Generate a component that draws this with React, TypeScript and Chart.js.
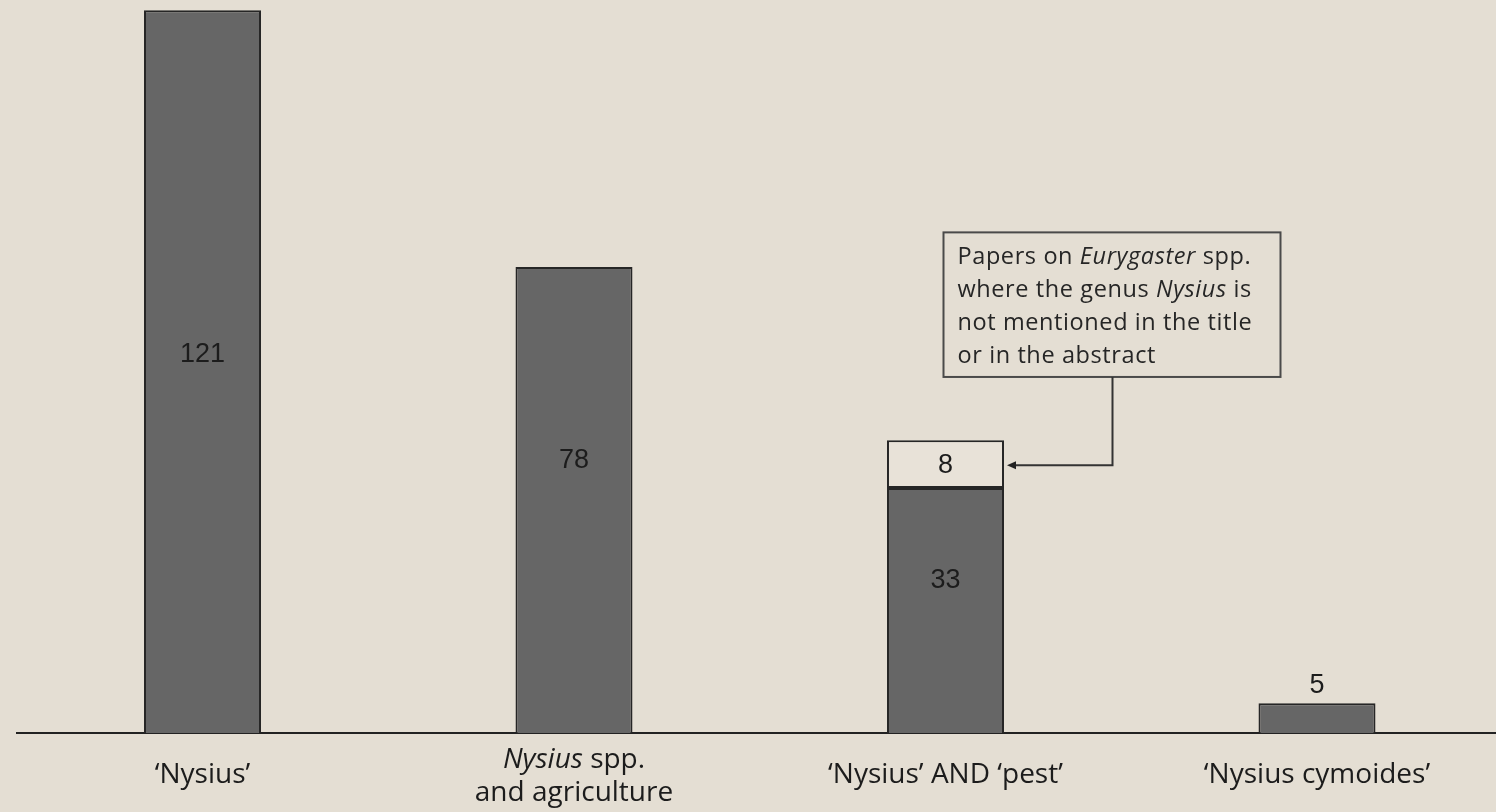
import React, { useEffect, useRef } from "react";
import { Chart, registerables } from "chart.js";

Chart.register(...registerables);

// ---- data ----
const categoryLines: string[][] = [
  ["‘Nysius’"],
  ["*Nysius* spp.", "and agriculture"],
  ["‘Nysius’ AND ‘pest’"],
  ["‘Nysius cymoides’"],
];
const mainCounts = [121, 78, 41, 5];
const extraCounts: (number | null)[] = [null, null, 8, null];
const mainLabels = ["121", "78", "33", "5"];
const extraLabels = ["", "", "8", ""];
const noteLines = [
  "Papers on *Eurygaster* spp.",
  "where the genus *Nysius* is",
  "not mentioned in the title",
  "or in the abstract",
];
const noteTarget = 2;

// ---- style ----
const BG = "#e4ded3";
const BAR = "#666666";
const EDGE = "#262626";
const TEXT = "#1c1c1c";
const labelAnchors = [63.3, 45.6, 25.6, 8.0];

function setFont(ctx: CanvasRenderingContext2D, italic: boolean, size: number, fam: string, spacing: number) {
  ctx.font = `${italic ? "italic " : ""}${size}px ${fam}`;
  (ctx as any).letterSpacing = `${spacing}px`;
}
function richWidth(ctx: CanvasRenderingContext2D, line: string, size: number, fam: string, spacing: number) {
  const parts = line.split("*");
  let w = 0;
  parts.forEach((p, i) => {
    setFont(ctx, i % 2 === 1, size, fam, spacing);
    w += ctx.measureText(p).width;
  });
  return w;
}
function drawRich(
  ctx: CanvasRenderingContext2D,
  line: string,
  x: number,
  y: number,
  size: number,
  fam: string,
  center: boolean,
  spacing = 0
) {
  const parts = line.split("*");
  let cx = center ? x - richWidth(ctx, line, size, fam, spacing) / 2 : x;
  ctx.textAlign = "left";
  ctx.textBaseline = "middle";
  parts.forEach((p, i) => {
    setFont(ctx, i % 2 === 1, size, fam, spacing);
    ctx.fillText(p, cx, y);
    cx += ctx.measureText(p).width;
  });
  (ctx as any).letterSpacing = "0px";
}

const decor = {
  id: "decor",
  beforeDraw(chart: any) {
    const ctx = chart.ctx;
    ctx.save();
    ctx.fillStyle = BG;
    ctx.fillRect(0, 0, chart.width, chart.height);
    ctx.restore();
  },
  afterDatasetsDraw(chart: any) {
    const ctx: CanvasRenderingContext2D = chart.ctx;
    const xs = chart.scales.x;
    const ys = chart.scales.y;
    ctx.save();
    ctx.fillStyle = TEXT;
    // value labels
    ctx.font = "27px 'Liberation Sans', Arial, sans-serif";
    ctx.textAlign = "center";
    ctx.textBaseline = "middle";
    mainLabels.forEach((t, i) => {
      if (!t) return;
      ctx.fillText(t, xs.getPixelForValue(i), ys.getPixelForValue(labelAnchors[i]));
    });
    extraLabels.forEach((t, i) => {
      const v = extraCounts[i];
      if (!t || v == null) return;
      ctx.fillText(t, xs.getPixelForValue(i), ys.getPixelForValue(mainCounts[i] + v / 2) + 1);
    });
    // category labels
    const base = chart.chartArea.bottom;
    categoryLines.forEach((lines, i) => {
      const cx = xs.getPixelForValue(i);
      const ys0 = lines.length === 1 ? [base + 42] : [base + 27, base + 60];
      lines.forEach((ln, j) => drawRich(ctx, ln, cx, ys0[j], 28, "'Open Sans', sans-serif", true, 0));
    });
    // annotation box
    const tx = xs.getPixelForValue(noteTarget);
    const meta = chart.getDatasetMeta(0).data[noteTarget];
    const barRight = tx + meta.width / 2;
    const boxL = tx - 2;
    const boxR = tx + 335;
    const boxT = ys.getPixelForValue(83.8);
    const boxB = ys.getPixelForValue(59.6);
    ctx.fillStyle = BG;
    ctx.fillRect(boxL, boxT, boxR - boxL, boxB - boxT);
    ctx.strokeStyle = "#4a4a4a";
    ctx.lineWidth = 2;
    ctx.strokeRect(boxL, boxT, boxR - boxL, boxB - boxT);
    ctx.fillStyle = "#262626";
    const lh = (boxB - boxT - 12) / noteLines.length;
    noteLines.forEach((ln, j) => {
      drawRich(ctx, ln, boxL + 14, boxT + 8 + lh * (j + 0.5), 23.5, "'Open Sans', sans-serif", false, 0.6);
    });
    // arrow
    const ay = ys.getPixelForValue(mainCounts[noteTarget] + (extraCounts[noteTarget] || 0) / 2) + 1;
    const ax = tx + 167;
    ctx.strokeStyle = "#333";
    ctx.lineWidth = 2;
    ctx.beginPath();
    ctx.moveTo(ax, boxB);
    ctx.lineTo(ax, ay);
    ctx.lineTo(barRight + 10, ay);
    ctx.stroke();
    ctx.fillStyle = "#222";
    ctx.beginPath();
    ctx.moveTo(barRight + 3, ay);
    ctx.lineTo(barRight + 12, ay - 4);
    ctx.lineTo(barRight + 12, ay + 4);
    ctx.closePath();
    ctx.fill();
    ctx.restore();
  },
};

export default function App() {
  const ref = useRef<HTMLCanvasElement>(null);
  useEffect(() => {
    if (!ref.current) return;
    const chart = new Chart(ref.current, {
      type: "bar",
      data: {
        labels: categoryLines.map((l) => l.join(" ").replace(/\*/g, "")),
        datasets: [
          {
            data: mainCounts,
            backgroundColor: BAR,
            borderColor: EDGE,
            borderWidth: 2,
            borderSkipped: "bottom",
            barPercentage: 0.315,
            categoryPercentage: 1,
          },
          {
            data: extraCounts,
            backgroundColor: "#e8e2d8",
            borderColor: EDGE,
            borderWidth: 2,
            borderSkipped: false,
            barPercentage: 0.315,
            categoryPercentage: 1,
          },
        ],
      },
      options: {
        animation: false,
        responsive: false,
        devicePixelRatio: 1,
        layout: { padding: { left: 16.75, right: 1.25, top: 0, bottom: 0 } },
        plugins: { legend: { display: false }, tooltip: { enabled: false } },
        scales: {
          x: {
            stacked: true,
            grid: { display: false },
            ticks: { display: false },
            border: { display: true, color: "#222", width: 2 },
            afterFit: (s: any) => {
              s.height = 79;
            },
          },
          y: { stacked: true, display: false, min: 0, max: 122.7 },
        },
      },
      plugins: [decor],
    });
    return () => chart.destroy();
  }, []);
  return (
    <div
      style={{
        position: "fixed",
        left: 0,
        top: 0,
        width: 1496,
        height: 812,
        overflow: "hidden",
        background: BG,
      }}
    >
      <canvas ref={ref} width={1504} height={812} style={{ width: 1504, height: 812, display: "block" }} />
    </div>
  );
}
